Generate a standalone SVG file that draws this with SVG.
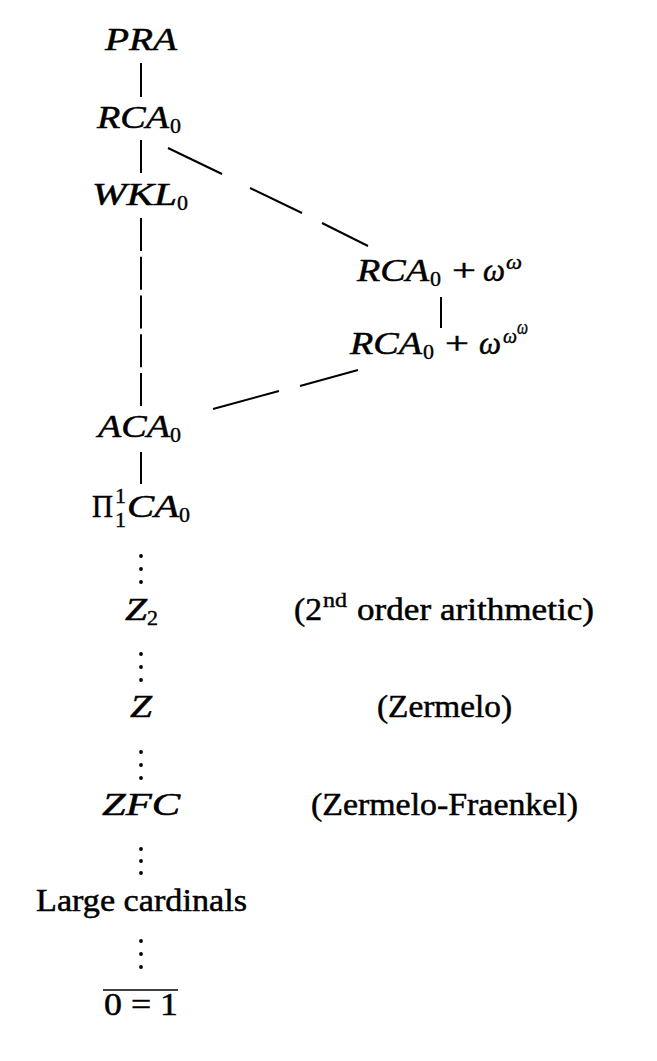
<svg xmlns="http://www.w3.org/2000/svg" width="657" height="1061" viewBox="0 0 657 1061">
<style>
.m { font-family: "Liberation Serif", serif; font-style: italic; font-size: 32px; fill: #000; stroke: #000; stroke-width: 0.5; }
.r { font-family: "Liberation Serif", serif; font-size: 32px; fill: #000; stroke: #000; stroke-width: 0.5; }
.s { font-family: "Liberation Serif", serif; font-size: 22px; fill: #000; stroke: #000; stroke-width: 0.4; }
.sm { font-family: "Liberation Serif", serif; font-style: italic; font-size: 21px; fill: #000; stroke: #000; stroke-width: 0.4; }
.ln { stroke: #000; stroke-width: 2; fill: none; }
.dot { fill: #000; }
</style>
<rect width="657" height="1061" fill="#fff"/>
<g id="connectors">
  <line class="ln" x1="141" y1="63" x2="141" y2="97"/>
  <line class="ln" x1="141" y1="140" x2="141" y2="173"/>
  <line class="ln" x1="141" y1="218" x2="141" y2="406" stroke-dasharray="33 5.75"/>
  <line class="ln" x1="141" y1="452" x2="141" y2="484"/>
  <line class="ln" x1="168" y1="148" x2="222" y2="174"/>
  <line class="ln" x1="250" y1="188" x2="302" y2="213"/>
  <line class="ln" x1="322" y1="223" x2="368" y2="246"/>
  <line class="ln" x1="441" y1="297" x2="441" y2="328"/>
  <line class="ln" x1="213" y1="409" x2="279" y2="391"/>
  <line class="ln" x1="300" y1="386" x2="358" y2="370"/>
  <g id="vdots">
    <circle class="dot" cx="141" cy="556" r="1.9"/><circle class="dot" cx="141" cy="569" r="1.9"/><circle class="dot" cx="141" cy="582" r="1.9"/>
    <circle class="dot" cx="141" cy="654" r="1.9"/><circle class="dot" cx="141" cy="667" r="1.9"/><circle class="dot" cx="141" cy="680" r="1.9"/>
    <circle class="dot" cx="141" cy="752" r="1.9"/><circle class="dot" cx="141" cy="765" r="1.9"/><circle class="dot" cx="141" cy="778" r="1.9"/>
    <circle class="dot" cx="141" cy="849" r="1.9"/><circle class="dot" cx="141" cy="861" r="1.9"/><circle class="dot" cx="141" cy="873" r="1.9"/>
    <circle class="dot" cx="141" cy="941" r="1.9"/><circle class="dot" cx="141" cy="954" r="1.9"/><circle class="dot" cx="141" cy="967" r="1.9"/>
  </g>
</g>
<g id="node-PRA"><text class="m" x="105" y="50" textLength="72" lengthAdjust="spacingAndGlyphs">PRA</text></g>
<g id="node-RCA0">
  <text class="m" x="97" y="128" textLength="72" lengthAdjust="spacingAndGlyphs">RCA</text>
  <text class="s" x="170" y="133" textLength="11" lengthAdjust="spacingAndGlyphs">0</text>
</g>
<g id="node-WKL0">
  <text class="m" x="92" y="205" textLength="85" lengthAdjust="spacingAndGlyphs">WKL</text>
  <text class="s" x="177" y="210" textLength="11" lengthAdjust="spacingAndGlyphs">0</text>
</g>
<g id="node-RCA0-omega">
  <text class="m" x="357" y="281" textLength="72" lengthAdjust="spacingAndGlyphs">RCA</text>
  <text class="s" x="430" y="286" textLength="11" lengthAdjust="spacingAndGlyphs">0</text>
  <text class="r" x="452" y="281" textLength="24" lengthAdjust="spacingAndGlyphs">+</text>
  <text class="m" x="483" y="281" textLength="22" lengthAdjust="spacingAndGlyphs">ω</text>
  <text class="sm" x="506" y="269" textLength="16" lengthAdjust="spacingAndGlyphs">ω</text>
</g>
<g id="node-RCA0-omega-omega">
  <text class="m" x="350" y="354" textLength="72" lengthAdjust="spacingAndGlyphs">RCA</text>
  <text class="s" x="423" y="359" textLength="11" lengthAdjust="spacingAndGlyphs">0</text>
  <text class="r" x="445" y="354" textLength="24" lengthAdjust="spacingAndGlyphs">+</text>
  <text class="m" x="479" y="354" textLength="22" lengthAdjust="spacingAndGlyphs">ω</text>
  <text class="sm" x="503" y="343" textLength="14" lengthAdjust="spacingAndGlyphs">ω</text>
  <text class="sm" x="517" y="334" font-size="15" textLength="11" lengthAdjust="spacingAndGlyphs">ω</text>
</g>
<g id="node-ACA0">
  <text class="m" x="98" y="437" textLength="72" lengthAdjust="spacingAndGlyphs">ACA</text>
  <text class="s" x="170" y="442" textLength="11" lengthAdjust="spacingAndGlyphs">0</text>
</g>
<g id="node-Pi11CA0">
  <text class="r" x="92" y="517" textLength="21" lengthAdjust="spacingAndGlyphs">Π</text>
  <text class="s" x="115" y="503" font-size="18">1</text>
  <text class="s" x="115" y="527" font-size="18">1</text>
  <text class="m" x="127" y="517" textLength="52" lengthAdjust="spacingAndGlyphs">CA</text>
  <text class="s" x="179" y="522" textLength="11" lengthAdjust="spacingAndGlyphs">0</text>
</g>
<g id="node-Z2">
  <text class="m" x="125" y="620" textLength="22" lengthAdjust="spacingAndGlyphs">Z</text>
  <text class="s" x="147" y="625" textLength="11" lengthAdjust="spacingAndGlyphs">2</text>
  <text class="r" x="294" y="620" textLength="28" lengthAdjust="spacingAndGlyphs">(2</text>
  <text class="s" x="323" y="607" font-size="21" textLength="24" lengthAdjust="spacingAndGlyphs">nd</text>
  <text class="r" x="357" y="620" textLength="237" lengthAdjust="spacingAndGlyphs">order arithmetic)</text>
</g>
<g id="node-Z">
  <text class="m" x="130" y="717" textLength="22" lengthAdjust="spacingAndGlyphs">Z</text>
  <text class="r" x="377" y="717" textLength="135" lengthAdjust="spacingAndGlyphs">(Zermelo)</text>
</g>
<g id="node-ZFC">
  <text class="m" x="102" y="815" textLength="78" lengthAdjust="spacingAndGlyphs">ZFC</text>
  <text class="r" x="311" y="815" textLength="267" lengthAdjust="spacingAndGlyphs">(Zermelo-Fraenkel)</text>
</g>
<g id="node-large-cardinals">
  <text class="r" x="36" y="911" textLength="211" lengthAdjust="spacingAndGlyphs">Large cardinals</text>
</g>
<g id="node-0eq1">
  <line x1="103" y1="990" x2="178" y2="990" stroke="#000" stroke-width="1.6"/>
  <text class="r" x="104" y="1015" textLength="74" lengthAdjust="spacingAndGlyphs">0 = 1</text>
</g>
</svg>
